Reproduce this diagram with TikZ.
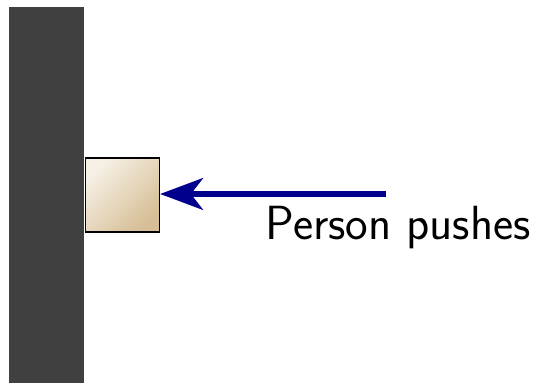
\documentclass[tikz,border=0pt]{standalone}
\usepackage{tikz}
\usetikzlibrary{arrows.meta,positioning}

\definecolor{boxlight}{RGB}{246,240,230}
\definecolor{boxtan}{RGB}{214,190,150}
\definecolor{pushblue}{RGB}{0,0,140}

\begin{document}
\begin{tikzpicture}[x=0.01333cm, y=-0.01333cm, every node/.style={font=\sffamily},
    wall/.style={fill=black!75, draw=none, inner sep=0pt, minimum width=1.013cm, minimum height=5.027cm},
    block/.style={draw=black, thin, inner sep=0pt, minimum size=0.987cm, top color=boxlight, bottom color=boxtan, shading angle=45},
    push/.style={draw=pushblue, line width=2.6pt, -{Stealth[length=0.57cm, width=0.42cm, inset=0.16cm]}}]
            \useasboundingbox (0,0) rectangle (537,383);
            % Define blocks
            \node (wall) [wall, anchor=north west] at (8,6) {};
            \node (crate) [block, anchor=west] at (wall.east |- 0,195) {};
            \coordinate (hand) at (386,194);
            
            % Draw arrows
            \draw[push] (hand) -- (crate.east |- hand);
            
            % Labels
            \node (label) [anchor=base west, font=\sffamily\fontsize{18.2}{22}\selectfont, inner sep=0pt] at (265,239.5) {Person pushes};
        \end{tikzpicture}
\end{document}
